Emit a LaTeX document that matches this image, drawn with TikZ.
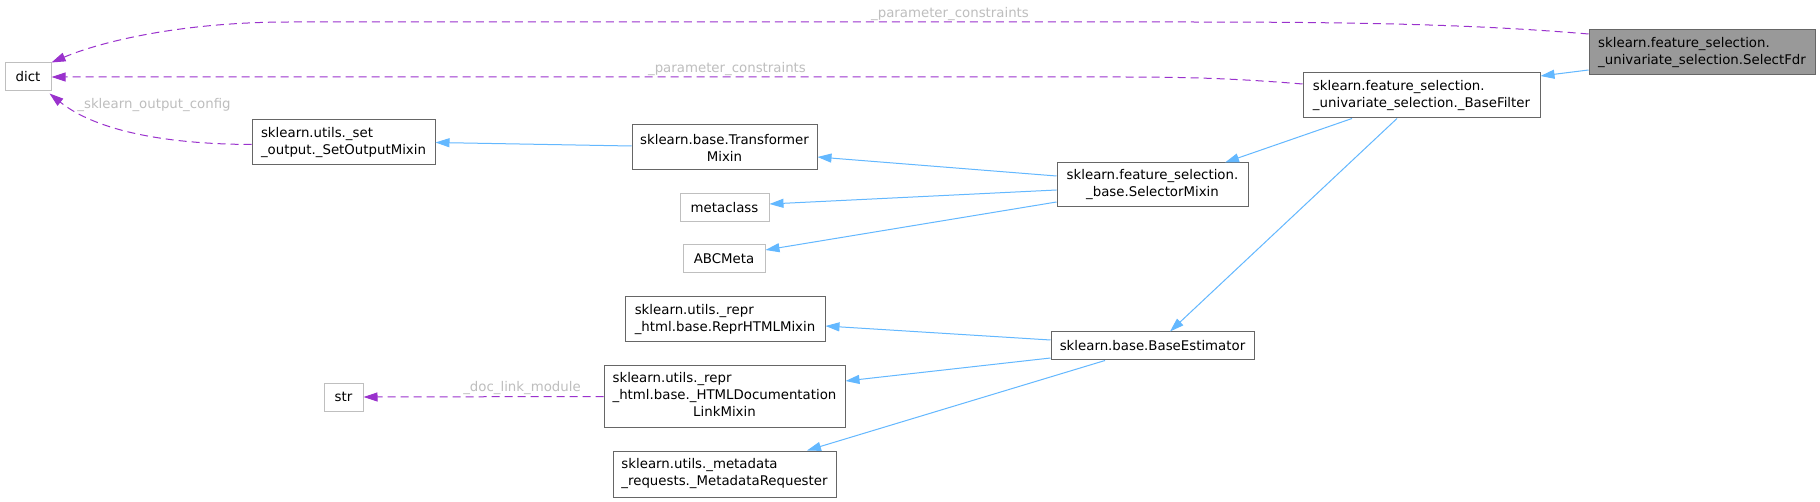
\documentclass[tikz,border=0pt]{standalone}
\usepackage{fontspec}
\setmainfont{DejaVu Sans}
\usepackage{xcolor}
\usetikzlibrary{positioning, arrows.meta, calc}

\definecolor{inhblue}{HTML}{63B8FF}
\definecolor{usepurple}{HTML}{9A32CD}
\definecolor{boxgray}{HTML}{666666}
\definecolor{extgray}{HTML}{BFBFBF}
\definecolor{curgray}{HTML}{999999}
\definecolor{lblgray}{HTML}{BEBEBE}

\begin{document}
\begin{tikzpicture}[
    x=1pt, y=-1pt,
    every node/.style={font=\fontsize{13.33}{17}\selectfont},
    sz/.style 2 args={minimum width=#1pt, minimum height=#2pt},
    cls/.style={draw=boxgray, line width=1pt, fill=white, inner sep=0pt, align=left},
    ext/.style={draw=extgray, line width=1pt, fill=white, inner sep=0pt},
    cur/.style={draw=boxgray, line width=1pt, fill=curgray, inner sep=0pt, align=left},
    inherit/.style={-{Triangle[length=14pt, width=9pt]}, line width=1pt, inhblue},
    usage/.style={-{Triangle[length=14pt, width=9pt]}, line width=1pt, usepurple, dash pattern=on 8pt off 5pt},
    elabel/.style={text=lblgray, inner sep=0pt},
  ]
  \path[use as bounding box, fill=white] (0,0) rectangle (1820,502);

  % ---- Classes ----
  \node[cur, sz={226}{45}] (selectfdr) at (1702,52.5) {sklearn.feature\_selection.\\\_univariate\_selection.SelectFdr};
  \node[cls, sz={237}{45}] (basefilter) at (1421.5,95.5) {sklearn.feature\_selection.\\\_univariate\_selection.\_BaseFilter};
  \node[cls, sz={191}{44}, align=center] (selector) at (1152.5,185) {sklearn.feature\_selection.\\\_base.SelectorMixin};
  \node[cls, sz={203}{28}] (baseest) at (1152.5,346) {sklearn.base.BaseEstimator};

  \node[cls, sz={185}{45}, align=center] (transf) at (724.5,147.5) {sklearn.base.Transformer\\Mixin};
  \node[ext, sz={89}{28}] (metacls) at (724.5,207.5) {metaclass};
  \node[ext, sz={82}{28}] (abcmeta) at (724,259) {ABCMeta};
  \node[cls, sz={200}{45}] (repr) at (725,319.5) {sklearn.utils.\_repr\\\_html.base.ReprHTMLMixin};
  \node[cls, sz={241}{61}] (htmldoc) at (724.5,396.5) {\begin{tabular}{@{}l@{}}sklearn.utils.\_repr\\\_html.base.\_HTMLDocumentation\\\multicolumn{1}{@{}c@{}}{LinkMixin}\end{tabular}};
  \node[cls, sz={223}{46}] (metareq) at (724.5,474) {sklearn.utils.\_metadata\\\_requests.\_MetadataRequester};

  \node[cls, sz={183}{45}] (setout) at (343.5,142.5) {sklearn.utils.\_set\\\_output.\_SetOutputMixin};
  \node[ext, sz={39}{28}] (str) at (343.5,397) {str};
  \node[ext, sz={46}{28}] (dict) at (28,77) {dict};

  % ---- Inheritance ----
  \draw[inherit] ($(selectfdr.west)+(0,17.5)$) -- ($(basefilter.east)+(0,-19.5)$);
  \draw[inherit] ($(basefilter.south)+(-69.5,0)$) -- ($(selector.north)+(72.5,0)$);
  \draw[inherit] ($(basefilter.south)+(-24.5,0)$) -- ($(baseest.north)+(17.5,0)$);
  \draw[inherit] ($(selector.west)+(0,-9)$) -- ($(transf.east)+(0,9.5)$);
  \draw[inherit] ($(selector.west)+(0,5)$) -- ($(metacls.east)+(0,-3.5)$);
  \draw[inherit] ($(selector.west)+(0,17)$) -- ($(abcmeta.east)+(0,-9)$);
  \draw[inherit] ($(transf.west)+(0,-1.5)$) -- (setout.east);
  \draw[inherit] ($(baseest.west)+(0,-6)$) -- ($(repr.east)+(0,6.5)$);
  \draw[inherit] ($(baseest.west)+(0,12)$) -- ($(htmldoc.east)+(0,-15.5)$);
  \draw[inherit] ($(baseest.south)+(-47.5,0)$) -- ($(metareq.north)+(82.5,0)$);

  % ---- Usage (dashed) ----
  \draw[usage] ($(selectfdr.west)+(0,-18.5)$) .. controls (1470,24) and (1350,22) .. (1180,22)
    -- (290,22) .. controls (180,22) and (100,42) .. (dict.north east);
  \draw[usage] ($(basefilter.west)+(0,-11.5)$) .. controls (1230,78) and (1180,77) .. (1120,77) -- (dict.east);
  \draw[usage] ($(setout.west)+(0,2)$) .. controls (150,144) and (90,126) .. ($(dict.south east)+(-2,2)$);
  \draw[usage] (htmldoc.west) -- (str.east);

  \node[elabel] (lblfdr) at (950,14) {\_parameter\_constraints};
  \node[elabel] (lblfilter) at (727,69) {\_parameter\_constraints};
  \node[elabel] (lbloutput) at (154,105) {\_sklearn\_output\_config};
  \node[elabel] (lbldoc) at (522,388) {\_doc\_link\_module};

\end{tikzpicture}
\end{document}
